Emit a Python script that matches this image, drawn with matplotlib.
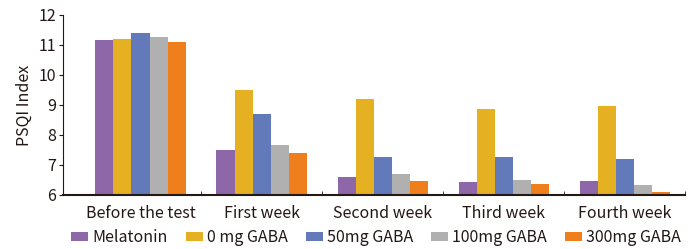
import numpy as np
import matplotlib.pyplot as plt

plt.rcParams['font.family'] = ['Noto Sans CJK SC', 'DejaVu Sans']

weeks = ['Before the test', 'First week', 'Second week', 'Third week', 'Fourth week']
groups = ['Melatonin', '0 mg GABA', '50mg GABA', '100mg GABA', '300mg GABA']
melatonin = [11.17, 7.5, 6.6, 6.43, 6.45]
gaba_0 = [11.2, 9.5, 9.2, 8.87, 8.97]
gaba_50 = [11.4, 8.7, 7.27, 7.25, 7.2]
gaba_100 = [11.27, 7.67, 6.7, 6.5, 6.33]
gaba_300 = [11.1, 7.4, 6.45, 6.35, 6.1]
colors = ['#8E67A8', '#E5B022', '#6279BA', '#B0B0B0', '#EE7F1C']

series = [melatonin, gaba_0, gaba_50, gaba_100, gaba_300]
ink = '#231815'
fs = 11.5

fig = plt.figure(figsize=(6.9, 2.49), dpi=100)
ax = fig.add_axes([0.0913, 0.217, 0.902, 0.723])

x = np.arange(len(weeks))
w = 0.149
for i, (vals, c) in enumerate(zip(series, colors)):
    ax.bar(x + (i - 2) * w, np.array(vals) - 6, width=w, bottom=6, color=c,
           label=groups[i])

ax.set_ylim(6, 12)
ax.set_xlim(-0.64, 4.5)
ax.set_yticks(range(6, 13))
ax.set_xticks(x)
ax.set_xticklabels(weeks)
ax.set_xticks(x + 0.5, minor=True)
ax.tick_params(axis='x', which='major', length=0, pad=7, labelsize=fs, labelcolor=ink)
ax.tick_params(axis='x', which='minor', direction='in', length=3, color=ink)
ax.tick_params(axis='y', length=3, color=ink, labelsize=fs, labelcolor=ink, pad=2)
ax.set_ylabel('PSQI Index', fontsize=fs, color=ink, labelpad=4)
for s in ['top', 'right']:
    ax.spines[s].set_visible(False)
ax.spines['left'].set_color(ink)
ax.spines['bottom'].set_color(ink)
ax.spines['bottom'].set_linewidth(1.5)

leg = fig.legend(loc='center', bbox_to_anchor=(0.545, 0.045), ncol=5, frameon=False,
                 fontsize=fs, handlelength=1.05, handleheight=0.5, handletextpad=0.25,
                 columnspacing=1.15)
for t in leg.get_texts():
    t.set_color(ink)

fig.savefig('out.png', dpi=100)
